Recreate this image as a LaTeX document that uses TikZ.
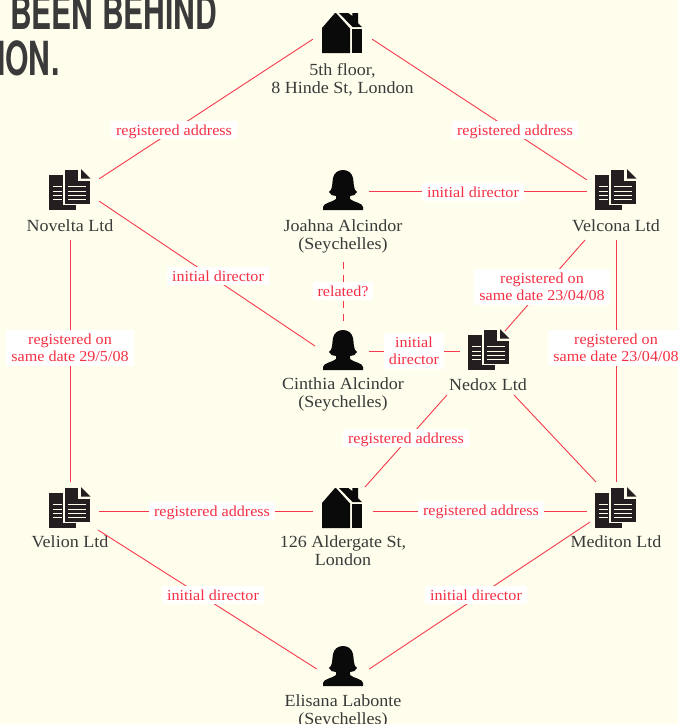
\documentclass[tikz,border=0pt]{standalone}
\usepackage{fontspec}
\setmainfont[FakeStretch=1.06]{Liberation Serif}
\newfontfamily\titlefont{TeX Gyre Heros}
\definecolor{pagebg}{HTML}{FFFDEB}
\definecolor{redline}{HTML}{F53A50}
\definecolor{redtext}{HTML}{F52F42}
\definecolor{ink}{HTML}{3A3A3A}
\definecolor{iconblack}{HTML}{0A0A0A}
\definecolor{docblack}{HTML}{231F20}
\tikzset{
  link/.style={draw=redline,line width=0.9pt},
  dashlink/.style={link,dash pattern=on 7pt off 6pt},
  tag/.style={fill=white,text=redtext,font=\fontsize{15.2}{17}\selectfont,align=center,inner xsep=5pt,inner ysep=4pt,text depth=0pt},
  caption/.style={text=ink,font=\fontsize{17}{18.5}\selectfont,align=center,inner sep=0pt,anchor=north},
  title/.style={text=ink,font=\titlefont\bfseries\fontsize{47}{47}\selectfont,inner sep=0pt,anchor=base west,xscale=0.64,transform shape},
  docbox/.style={minimum width=58pt,minimum height=22pt,inner sep=0pt},
  housebox/.style={minimum width=59pt,minimum height=12pt,inner sep=0pt},
  personbox/.style={minimum width=52pt,minimum height=2pt,inner sep=0pt},
  pics/docicon/.style={code={
    \fill[docblack] (-21,-15) rectangle (6,20);
    \foreach \yy in {-4,1,5,9} \draw[pagebg,line width=0.9pt] (-17,\yy) -- (-8,\yy);
    \fill[docblack,draw=pagebg,line width=1.3pt] (-6,-21) -- (9,-21) -- (9,-10) -- (20.5,-10) -- (20.5,14.5) -- (-6,14.5) -- cycle;
    \fill[docblack] (11,-21) -- (20.5,-11.5) -- (11,-11.5) -- cycle;
    \foreach \yy in {-4,1,5,9} \draw[pagebg,line width=0.9pt] (-2,\yy) -- (16,\yy);
  }},
  pics/houseicon/.style={code={
    \fill[iconblack] (-20,-5) -- (-7,-20) -- (-6,-20) -- (8,-4.5) -- (8,20) -- (-20,20) -- cycle;
    \fill[iconblack] (-3,-20) -- (6.3,-20) -- (10.3,-17) -- (10.3,-20) -- (16,-20) -- (16,-10) -- (20,-6) -- (10.5,-6) -- cycle;
    \fill[iconblack] (10,-4) rectangle (20,20);
  }},
  pics/personicon/.style={code={
    \fill[iconblack] (-20,20) -- (-20,17) .. controls (-20,13) and (-10,12) .. (-7,9)
      -- (-7,6) .. controls (-10,6) and (-13,5) .. (-14,2)
      .. controls (-10,0) and (-11,-8) .. (-10,-12)
      .. controls (-9,-17) and (-5,-20) .. (0,-20)
      .. controls (5,-20) and (9,-17) .. (10,-12)
      .. controls (11,-8) and (10,0) .. (14,2)
      .. controls (13,5) and (10,6) .. (7,6)
      -- (7,9) .. controls (10,12) and (20,13) .. (20,17) -- (20,20) -- cycle;
  }},
}
\begin{document}
\begin{tikzpicture}[x=1pt,y=-1pt]
\useasboundingbox (0,0) rectangle (678,724);
\fill[pagebg] (0,0) rectangle (678,724);
\begin{scope}
\clip (0,0) rectangle (678,724);
\node[title] (t1) at (10,29) {BEEN BEHIND};
\node[title] (t2) at (-3,75) {ION.};
\end{scope}

% icons
\node[housebox] (hone) at (342.5,33) {}; \pic at (342,33) {houseicon};
\node[housebox] (htwo) at (343,511) {}; \pic at (342,508) {houseicon};
\node[docbox] (nov) at (70,190) {}; \pic at (70,190) {docicon};
\node[docbox] (vco) at (616,191) {}; \pic at (616,190) {docicon};
\node[docbox] (ned) at (489,351) {}; \pic at (489,350) {docicon};
\node[docbox] (vli) at (70,511) {}; \pic at (70,508) {docicon};
\node[docbox] (med) at (616,511) {}; \pic at (616,508) {docicon};
\node[personbox] (joa) at (343,191) {}; \pic at (343,190) {personicon};
\node[personbox] (cin) at (343,351) {}; \pic at (343,350) {personicon};
\node[personbox] (eli) at (343,669) {}; \pic at (343,666) {personicon};

% captions
\node[caption] (chone) at (342.5,63) {5th floor,\\8 Hinde St, London};
\node[caption] (cnov) at (70,219) {Novelta Ltd};
\node[caption] (cvco) at (616,219) {Velcona Ltd};
\node[caption] (cjoa) at (343,219) {Joahna Alcindor\\(Seychelles)};
\node[caption] (ccin) at (343,377) {Cinthia Alcindor\\(Seychelles)};
\node[caption] (cned) at (488,378) {Nedox Ltd};
\node[caption] (cvli) at (70,535) {Velion Ltd};
\node[caption] (chtwo) at (343,535) {126 Aldergate St,\\London};
\node[caption] (cmed) at (616,535) {Mediton Ltd};
\node[caption] (celi) at (343,694) {Elisana Labonte\\(Seychelles)};

% free ends of connectors
\coordinate (novB) at (70,240);
\coordinate (vliT) at (70,482);
\coordinate (vcoB) at (616,240);
\coordinate (medT) at (616,482);
\coordinate (vcoL) at (585,240);
\coordinate (nedR) at (505,331);
\coordinate (joaB) at (343,262);
\coordinate (cinT) at (343,325);
\coordinate (cinL) at (315,346);
\coordinate (nedBL) at (447,395);
\coordinate (htwoR) at (365,487);
\coordinate (nedBR) at (514,395);
\coordinate (medL) at (596,482);
\coordinate (vliL) at (98,530);
\coordinate (medLL) at (590,522);

% connectors
\draw[link] (hone.south west) -- (nov.north east);
\draw[link] (hone.south east) -- (vco.north west);
\draw[link] (nov.south east) -- (cinL);
\draw[link] (novB) -- (vliT);
\draw[link] (vcoB) -- (medT);
\draw[link] (joa.east) -- (vco.west);
\draw[link] (vcoL) -- (nedR);
\draw[dashlink] (joaB) -- (cinT);
\draw[link] (cin.east) -- (ned.west);
\draw[link] (nedBL) -- (htwoR);
\draw[link] (nedBR) -- (medL);
\draw[link] (vli.east) -- (htwo.west);
\draw[link] (htwo.east) -- (med.west);
\draw[link] (vliL) -- (eli.west);
\draw[link] (medLL) -- (eli.east);

% tags
\node[tag] (a) at (174,130) {registered address};
\node[tag] (b) at (515,130) {registered address};
\node[tag] (c) at (473,192) {initial director};
\node[tag] (d) at (218,276) {initial director};
\node[tag] (e) at (343,291) {related?};
\node[tag] (f) at (542,287) {registered on\\same date 23/04/08};
\node[tag] (g) at (414,351) {initial\\director};
\node[tag] (h) at (70,348) {registered on\\same date 29/5/08};
\node[tag] (i) at (616,348) {registered on\\same date 23/04/08};
\node[tag] (j) at (406,438) {registered address};
\node[tag] (k) at (212,511) {registered address};
\node[tag] (l) at (481,510) {registered address};
\node[tag] (m) at (213,595) {initial director};
\node[tag] (n) at (476,595) {initial director};
\end{tikzpicture}
\end{document}
